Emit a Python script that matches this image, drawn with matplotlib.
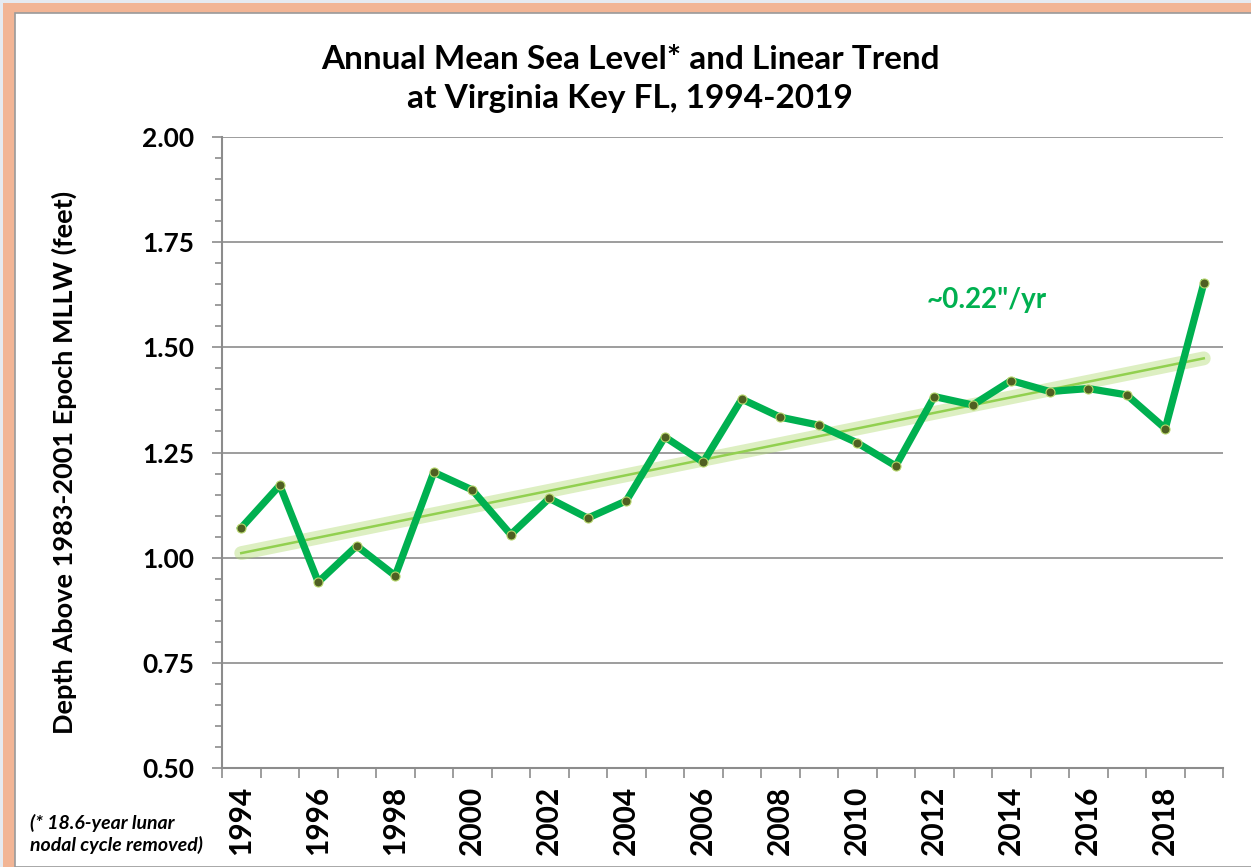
import matplotlib
matplotlib.use("Agg")
import matplotlib.pyplot as plt
from matplotlib.patches import Rectangle
from matplotlib.ticker import MultipleLocator, FixedLocator
import numpy as np

plt.rcParams['font.family'] = ['Lato', 'DejaVu Sans']

# --- Datos ---
years = list(range(1994, 2020))
sea_level = [1.071, 1.172, 0.942, 1.028, 0.957, 1.203, 1.161, 1.055, 1.141, 1.094,
             1.135, 1.287, 1.227, 1.377, 1.334, 1.315, 1.273, 1.218, 1.383, 1.363,
             1.421, 1.395, 1.402, 1.387, 1.307, 1.652]
year_labels = [str(y) if y % 2 == 0 else "" for y in years]
trend_text = '~0.22"/yr'

LINE_GREEN = "#00B050"
TREND_GREEN = "#92D050"

fig = plt.figure(figsize=(12.51, 8.67), dpi=100)
fig.patch.set_facecolor("#E6EAF0")

# marco naranja tipo Excel
W, H = 1251, 867
fig.patches.append(Rectangle((3 / W, 0), 1, 1 - 3 / H, transform=fig.transFigure,
                             facecolor="#F2B595", edgecolor="none", zorder=-2))
fig.patches.append(Rectangle((15 / W, 0), 1, 1 - 13 / H, transform=fig.transFigure,
                             facecolor="white", edgecolor="#9A9A9A", linewidth=1.2, zorder=-1))

ax = fig.add_axes([222 / W, 1 - 768 / H, (1223 - 222) / W, (768 - 137) / H])
ax.set_zorder(1)
ax.set_facecolor("none")

x = np.arange(len(years))

# --- Tendencia lineal ---
coef = np.polyfit(x, sea_level, 1)
trend = np.polyval(coef, x)
ax.plot(x, trend, color="#B4DC78", linewidth=10, alpha=0.45, solid_capstyle="round", zorder=2)
ax.plot(x, trend, color=TREND_GREEN, linewidth=1.8, zorder=3)

# --- Serie ---
ax.plot(x, sea_level, color=LINE_GREEN, linewidth=5.2, zorder=4,
        marker="o", markersize=6.5, markerfacecolor="#4F5F22",
        markeredgecolor="#B5D56A", markeredgewidth=0.8)

ax.text(19.35, 1.612, trend_text, color=LINE_GREEN, fontsize=20, fontweight="bold",
        ha="center", va="center")

# --- Ejes ---
ax.set_ylim(0.5, 2.0)
ax.set_xlim(-0.5, len(years) - 0.5)
ax.yaxis.set_minor_locator(MultipleLocator(0.05))
ax.set_yticks(np.arange(0.5, 2.01, 0.25))
ax.set_yticklabels([f"{v:.2f}" for v in np.arange(0.5, 2.01, 0.25)])
ax.grid(axis="y", which="major", color="#8C8C8C", linewidth=1.2, zorder=1)
ax.set_axisbelow(True)

ax.xaxis.set_major_locator(FixedLocator(x))
ax.set_xticklabels(year_labels, rotation=90)
ax.xaxis.set_minor_locator(FixedLocator(np.arange(-0.5, len(years), 1.0)))

for s in ["top", "right"]:
    ax.spines[s].set_visible(False)
for s in ["left", "bottom"]:
    ax.spines[s].set_color("#8C8C8C")
    ax.spines[s].set_linewidth(1.5)

ax.tick_params(axis="y", which="major", length=7, color="#8C8C8C", width=1.2,
               labelsize=19, pad=13)
ax.tick_params(axis="y", which="minor", length=5, color="#8C8C8C", width=1.2)
ax.tick_params(axis="x", which="major", length=0, labelsize=21.5, pad=13)
ax.tick_params(axis="x", which="minor", length=7, color="#8C8C8C", width=1.2)
for lbl in ax.get_xticklabels() + ax.get_yticklabels():
    lbl.set_fontweight("bold")

ax.set_ylabel("Depth Above 1983-2001 Epoch MLLW (feet)", fontsize=19.5, fontweight="bold")
ax.yaxis.set_label_coords(-0.145, 0.485)

fig.text(630 / W, 1 - 79 / H, "Annual Mean Sea Level* and Linear Trend\nat Virginia Key FL, 1994-2019",
         ha="center", va="center", fontsize=24, fontweight="bold", linespacing=1.45)

fig.text(30 / W, 1 - 834 / H, "(* 18.6-year lunar\nnodal cycle removed)", ha="left", va="center",
         fontsize=14, fontstyle="italic", fontweight="bold", linespacing=1.25)

fig.savefig("out.png", dpi=100, facecolor=fig.get_facecolor())
